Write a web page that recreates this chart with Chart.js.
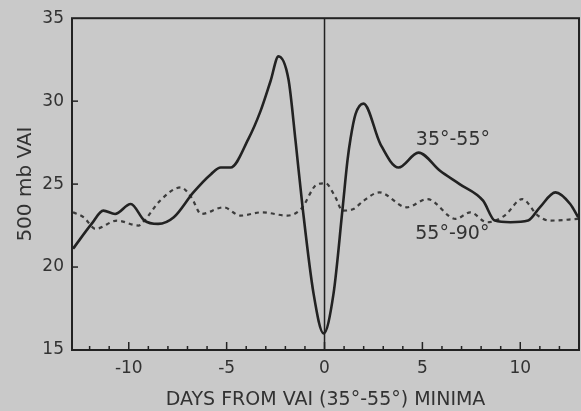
<!DOCTYPE html>
<html>
<head>
<meta charset="utf-8">
<script src="https://cdn.jsdelivr.net/npm/chart.js@4.4.1/dist/chart.umd.min.js"></script>
<style>
html,body{margin:0;padding:0;background:#c9c9c9;}
#wrap{width:581px;height:411px;}
</style>
</head>
<body>
<div id="wrap"><canvas id="c" width="581" height="411"></canvas></div>
<script>
// Series 35°-55° (solid)
const days3555 = [-12.85,-11.9,-11.3,-10.7,-9.9,-9.2,-8.5,-7.7,-6.7,-5.8,-5.3,-4.8,-3.9,-3.27,-2.76,-2.35,-1.84,-1.48,-1.12,-0.56,-0.05,0.46,0.92,1.17,1.33,1.58,1.99,2.86,3.78,4.8,5.9,6.9,8.1,8.7,9.5,10.4,11.0,11.8,12.55,12.96];
const vai3555  = [21.1,22.6,23.4,23.2,23.8,22.8,22.6,23.0,24.5,25.6,26.0,26.0,27.7,29.4,31.2,32.7,31.3,27.6,23.6,18.4,16.0,18.4,23.5,26.4,27.75,29.2,29.85,27.4,26.0,26.9,25.8,25.0,24.0,22.8,22.7,22.8,23.6,24.5,23.8,23.0];
// Series 55°-90° (dashed)
const days5590 = [-12.85,-12.3,-11.7,-10.6,-9.5,-9.2,-8.4,-7.35,-6.8,-6.3,-5.15,-4.3,-3.2,-1.9,-1.2,-0.36,0.05,0.56,0.92,1.48,2.0,2.8,4.2,5.25,6.7,7.45,8.3,9.2,10.1,10.9,11.5,12.95];
const vai5590  = [23.3,23.0,22.3,22.8,22.5,22.8,24.0,24.8,24.2,23.2,23.6,23.1,23.3,23.1,23.5,25.0,25.05,24.2,23.4,23.5,24.0,24.5,23.6,24.1,22.9,23.3,22.7,23.1,24.1,23.1,22.8,22.9];
const xTicks = [-10,-5,0,5,10];
const yTicks = [15,20,25,30,35];
const seriesLabels = ['35°-55°','55°-90°'];
const labelPos = [[6.56,27.66],[6.53,21.98]];

const ink = 'rgb(34,34,34)';
const txt = 'rgb(50,50,50)';

const toPts = (xs, ys) => xs.map((x,i)=>({x:x,y:ys[i]}));

const decor = {
  id:'decor',
  beforeDraw(chart){
    const {ctx} = chart;
    ctx.save();
    ctx.fillStyle = '#c9c9c9';
    ctx.fillRect(0,0,chart.width,chart.height);
    ctx.restore();
  },
  afterDatasetsDraw(chart){
    const {ctx, chartArea:a, scales:{x,y}} = chart;
    ctx.save();
    ctx.strokeStyle = ink;
    ctx.lineWidth = 2;
    ctx.strokeRect(a.left, a.top, a.right-a.left, a.bottom-a.top);
    // zero line
    ctx.lineWidth = 1.5;
    ctx.beginPath();
    const x0 = x.getPixelForValue(0);
    ctx.moveTo(x0, a.top); ctx.lineTo(x0, a.bottom); ctx.stroke();
    // inner minor ticks on x
    ctx.lineWidth = 1.5;
    for(let d=-12; d<=12; d++){
      const px = x.getPixelForValue(d);
      const len = (d%5===0) ? 8 : 4;
      ctx.beginPath(); ctx.moveTo(px, a.bottom); ctx.lineTo(px, a.bottom-len); ctx.stroke();
    }
    // inner ticks on y
    for(const v of [20,25,30]){
      const py = y.getPixelForValue(v);
      ctx.beginPath(); ctx.moveTo(a.left, py); ctx.lineTo(a.left+6, py); ctx.stroke();
    }
    // series labels
    ctx.fillStyle = txt;
    ctx.font = '19px "DejaVu Sans"';
    ctx.textAlign = 'center';
    ctx.textBaseline = 'middle';
    seriesLabels.forEach((s,i)=>{
      ctx.fillText(s, x.getPixelForValue(labelPos[i][0]), y.getPixelForValue(labelPos[i][1]));
    });
    ctx.restore();
  }
};

new Chart(document.getElementById('c'), {
  type:'scatter',
  data:{
    datasets:[
      {label:seriesLabels[0], data:toPts(days3555,vai3555), showLine:true, borderColor:ink, borderWidth:2.6, pointRadius:0, cubicInterpolationMode:'monotone', fill:false},
      {label:seriesLabels[1], data:toPts(days5590,vai5590), showLine:true, borderColor:'rgb(60,60,60)', borderWidth:2.2, borderDash:[4,4], pointRadius:0, cubicInterpolationMode:'monotone', fill:false}
    ]
  },
  options:{
    responsive:false,
    animation:false,
    devicePixelRatio:1,
    layout:{padding:{left:0,right:2,top:16,bottom:0}},
    plugins:{legend:{display:false}, tooltip:{enabled:false}},
    scales:{
      x:{
        type:'linear', min:-12.9, max:13,
        afterBuildTicks:s=>{s.ticks = xTicks.map(v=>({value:v}));},
        afterFit:s=>{s.height = 61;},
        grid:{display:false, drawTicks:false},
        border:{display:false},
        ticks:{color:txt, font:{family:'DejaVu Sans', size:17}, padding:8, maxRotation:0, autoSkip:false,
               callback:v=> v<0 ? '-'+Math.abs(v) : String(v)},
        title:{display:true, text:'DAYS FROM VAI (35°-55°) MINIMA', color:txt, font:{family:'DejaVu Sans', size:19}, padding:{top:0,bottom:0}}
      },
      y:{
        type:'linear', min:15, max:35,
        afterBuildTicks:s=>{s.ticks = yTicks.map(v=>({value:v}));},
        afterFit:s=>{s.width = 72;},
        grid:{display:false, drawTicks:false},
        border:{display:false},
        ticks:{color:txt, font:{family:'DejaVu Sans', size:17}, padding:8, autoSkip:false},
        title:{display:true, text:'500 mb VAI', color:txt, font:{family:'DejaVu Sans', size:20}, padding:{top:14,bottom:0}}
      }
    }
  },
  plugins:[decor]
});
</script>
</body>
</html>
